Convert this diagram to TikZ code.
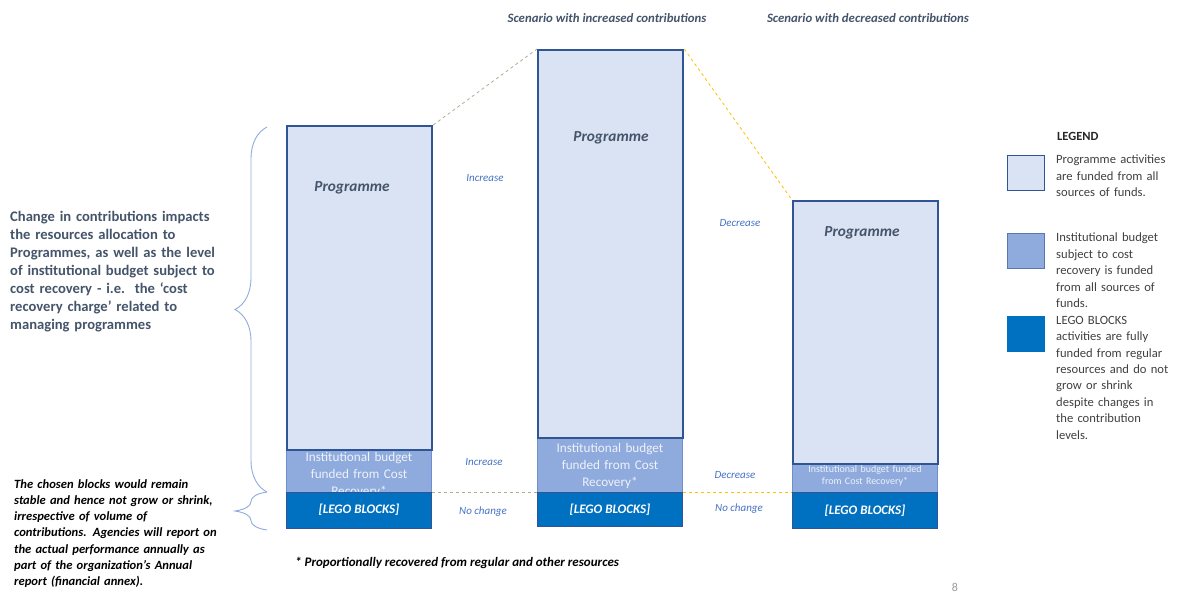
\documentclass[tikz,border=0pt]{standalone}
\usepackage{fontspec}
\setmainfont{Carlito}
\usetikzlibrary{decorations.pathreplacing}
\definecolor{progfill}{HTML}{DAE3F3}
\definecolor{progline}{HTML}{2F5597}
\definecolor{instfill}{HTML}{8FAADC}
\definecolor{instline}{HTML}{6F8FCB}
\definecolor{legofill}{HTML}{0070C0}
\definecolor{legoline}{HTML}{2F5597}
\definecolor{darktext}{HTML}{44546A}
\definecolor{lblblue}{HTML}{4472C4}
\definecolor{bracecol}{HTML}{8FAADC}
\definecolor{greendash}{HTML}{A9B18F}
\definecolor{yellowdash}{HTML}{FFC000}
\tikzset{
  prog/.style={draw=progline, line width=2.2pt, fill=progfill, anchor=north west, inner sep=0pt},
  inst/.style={draw=instline, line width=1pt, fill=instfill, anchor=north west, inner sep=0pt},
  lego/.style={draw=legoline, line width=1pt, fill=legofill, anchor=north west, inner sep=0pt},
  progtxt/.style={text=darktext, font=\fontsize{15.3}{18}\selectfont\bfseries\itshape},
  insttxt/.style={text=white!85!instfill, align=center, text width=145pt, inner sep=0pt, font=\fontsize{13.2}{17}\selectfont},
  legotxt/.style={text=white, font=\fontsize{13}{15}\selectfont\bfseries\itshape},
  lbl/.style={text=lblblue, font=\fontsize{11}{13}\selectfont\itshape},
  ttl/.style={text=darktext, font=\fontsize{12.8}{15}\selectfont\bfseries\itshape},
  legtxt/.style={text=black!75, align=left, text width=130pt, anchor=north west, inner sep=0pt, font=\fontsize{12.6}{16.4}\selectfont},
  swatch/.style={minimum width=37pt, minimum height=35pt, anchor=north west, inner sep=0pt},
  bracestyle/.style={draw=bracecol, line width=0.9pt, decorate, decoration={brace, amplitude=32pt, aspect=0.5}},
  dashgreen/.style={draw=greendash, dashed, line width=0.8pt},
  dashyellow/.style={draw=yellowdash, dashed, line width=0.8pt},
}
\begin{document}
\begin{tikzpicture}[x=1pt,y=-1pt]
\useasboundingbox (0,0) rectangle (1179,594);
% titles
\node[ttl] (t1) at (607,18) {Scenario with increased contributions};
\node[ttl] (t2) at (868,18) {Scenario with decreased contributions};
% bar 1
\node[inst, minimum width=145pt, minimum height=43pt] (i1) at (286,449) {};
\node[insttxt, anchor=north] (it1) at ([yshift=-3pt]i1.north) {Institutional budget\\funded from Cost\\Recovery*};
\node[lego, minimum width=145pt, minimum height=36pt] (l1) at (286,492) {};
\node[legotxt] (lt1) at ([yshift=1pt]l1.center) {[LEGO BLOCKS]};
\node[prog, minimum width=145pt, minimum height=324pt] (p1) at (286,125) {};
\node[progtxt] (pt1) at (352,188) {Programme};
% bar 2
\node[inst, minimum width=145pt, minimum height=55pt] (i2) at (537,437) {};
\node[insttxt, anchor=north] (it2) at ([yshift=-6pt]i2.north) {Institutional budget\\funded from Cost\\Recovery*};
\node[lego, minimum width=145pt, minimum height=34pt] (l2) at (537,492) {};
\node[legotxt] (lt2) at (l2.center) {[LEGO BLOCKS]};
\node[prog, minimum width=145pt, minimum height=388pt] (p2) at (537,49) {};
\node[progtxt] (pt2) at (611,138) {Programme};
% bar 3
\node[inst, minimum width=145pt, minimum height=29pt] (i3) at (792,463) {};
\node[insttxt, anchor=north, font=\fontsize{10}{12.5}\selectfont] (it3) at ([yshift=-2pt]i3.north) {Institutional budget funded\\from Cost Recovery*};
\node[lego, minimum width=145pt, minimum height=36pt] (l3) at (792,492) {};
\node[legotxt] (lt3) at (l3.center) {[LEGO BLOCKS]};
\node[prog, minimum width=145pt, minimum height=263pt] (p3) at (792,200) {};
\node[progtxt] (pt3) at (862,233) {Programme};
% connectors
\draw[dashgreen] (p1.north east) -- (p2.north west);
\draw[dashyellow] (p2.north east) -- (p3.north west);
\draw[dashgreen] (l1.north east) -- (l2.north west);
\draw[dashyellow] (l2.north east) -- (l3.north west);
% labels
\node[lbl] (a1) at (485,178) {Increase};
\node[lbl] (a2) at (484,462) {Increase};
\node[lbl] (a3) at (483,512) {No change};
\node[lbl] (b1) at (740,223) {Decrease};
\node[lbl] (b2) at (735,475) {Decrease};
\node[lbl] (b3) at (739,509) {No change};
% braces
\coordinate (bb1) at (267,492);
\coordinate (bt1) at (267,127);
\coordinate (bb2) at (267,530);
\coordinate (bt2) at (267,492);
\draw[bracestyle] (bb1) -- (bt1);
\draw[bracestyle] (bb2) -- (bt2);
% left texts
\node[anchor=north west, align=left, text width=260pt, inner sep=0pt, text=darktext, font=\fontsize{14.6}{18}\selectfont\bfseries] (lefttxt) at (10,211) {Change in contributions impacts\\the resources allocation to\\Programmes, as well as the level\\of institutional budget subject to\\cost recovery - i.e.\ \ the ‘cost\\recovery charge’ related to\\managing programmes};
\node[anchor=north west, align=left, text width=260pt, inner sep=0pt, text=black, font=\fontsize{12.6}{16.3}\selectfont\bfseries\itshape] (lowtxt) at (14,479) {The chosen blocks would remain\\stable and hence not grow or shrink,\\irrespective of volume of\\contributions. Agencies will report on\\the actual performance annually as\\part of the organization’s Annual\\report (financial annex).};
% footnote
\node[anchor=west, inner sep=0pt, text=black, font=\fontsize{13}{15}\selectfont\bfseries\itshape] (fn) at (295,563) {* Proportionally recovered from regular and other resources};
\node[text=black!40, font=\fontsize{12}{14}\selectfont] (pg) at (955,587) {8};
% legend
\node[anchor=west, inner sep=0pt, text=black!85, font=\fontsize{12.5}{14}\selectfont\bfseries] (leg) at (1057,136) {LEGEND};
\node[swatch, draw=progline, line width=1.2pt, fill=progfill] (s1) at (1007,155) {};
\node[swatch, draw=progline!80, line width=1.2pt, fill=instfill] (s2) at (1007,233) {};
\node[swatch, draw=legofill, line width=1.2pt, fill=legofill] (s3) at (1007,316) {};
\node[legtxt] (lg1) at (1056,155) {Programme activities\\are funded from all\\sources of funds.};
\node[legtxt] (lg2) at (1056,233) {Institutional budget\\subject to cost\\recovery is funded\\from all sources of\\funds.};
\node[legtxt] (lg3) at (1056,316) {LEGO BLOCKS\\activities are fully\\funded from regular\\resources and do not\\grow or shrink\\despite changes in\\the contribution\\levels.};
\end{tikzpicture}
\end{document}
